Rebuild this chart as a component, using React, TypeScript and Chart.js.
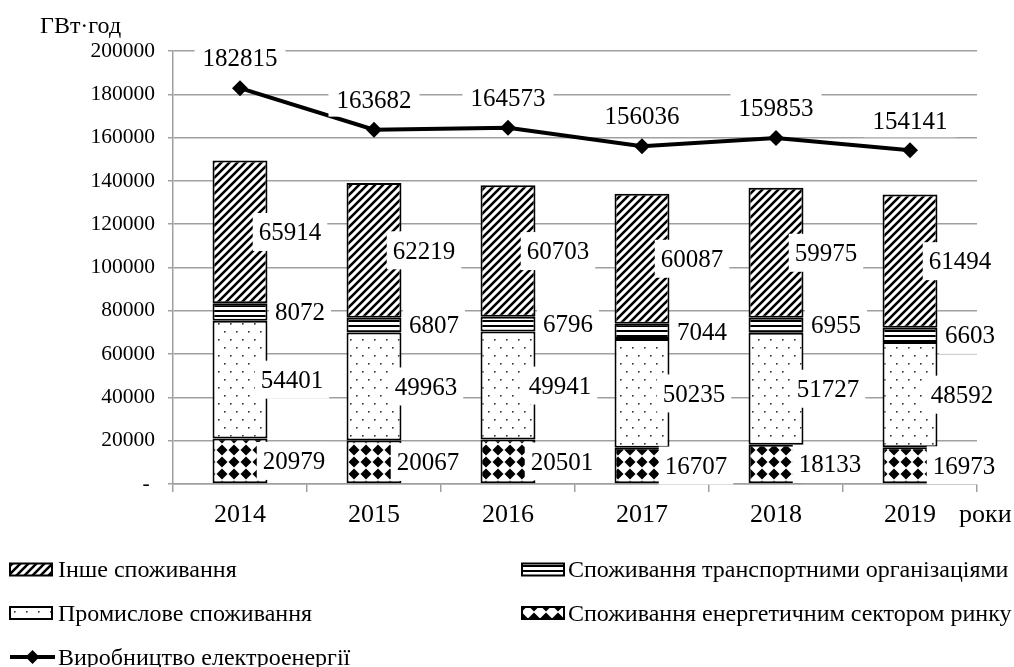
import React, { useEffect, useRef } from 'react';
import { Chart, registerables } from 'chart.js';

Chart.register(...registerables);

const years = ['2014', '2015', '2016', '2017', '2018', '2019'];
const energySector = [20979, 20067, 20501, 16707, 18133, 16973];
const industrial = [54401, 49963, 49941, 50235, 51727, 48592];
const transport = [8072, 6807, 6796, 7044, 6955, 6603];
const otherUse = [65914, 62219, 60703, 60087, 59975, 61494];
const production = [182815, 163682, 164573, 156036, 159853, 154141];

const unitLabel = 'ГВт·год';
const xAxisLabel = 'роки';
const seriesNames = {
  other: 'Інше споживання',
  transport: 'Споживання транспортними організаціями',
  industrial: 'Промислове споживання',
  energy: 'Споживання енергетичним сектором ринку',
  production: 'Виробництво електроенергії',
};

const SERIF = '"Liberation Serif", "Times New Roman", serif';
const GRID = '#a0a0a0';

function makePattern(kind: string): CanvasPattern | string {
  const c = document.createElement('canvas');
  const g = c.getContext('2d');
  if (!g) return '#fff';
  if (kind === 'hatch') {
    c.width = 8; c.height = 8;
    g.fillStyle = '#fff'; g.fillRect(0, 0, 8, 8);
    g.strokeStyle = '#000'; g.lineWidth = 2.6; g.lineCap = 'square';
    g.beginPath();
    g.moveTo(-2, 10); g.lineTo(10, -2);
    g.moveTo(-2, 2); g.lineTo(2, -2);
    g.moveTo(6, 10); g.lineTo(10, 6);
    g.stroke();
  } else if (kind === 'hstripes') {
    c.width = 6; c.height = 5;
    g.fillStyle = '#fff'; g.fillRect(0, 0, 6, 5);
    g.fillStyle = '#000'; g.fillRect(0, 0, 6, 2);
  } else if (kind === 'dots') {
    c.width = 12; c.height = 16;
    g.fillStyle = '#fff'; g.fillRect(0, 0, 12, 16);
    g.fillStyle = '#333';
    g.fillRect(2, 3, 1.6, 1.6);
    g.fillRect(8, 11, 1.6, 1.6);
  } else if (kind === 'diamonds') {
    c.width = 12; c.height = 12;
    g.fillStyle = '#fff'; g.fillRect(0, 0, 12, 12);
    g.fillStyle = '#000';
    g.beginPath();
    g.moveTo(6, 0.5); g.lineTo(11.5, 6); g.lineTo(6, 11.5); g.lineTo(0.5, 6);
    g.closePath(); g.fill();
  }
  const p = g.createPattern(c, 'repeat');
  return p || '#fff';
}

function drawBoxLabel(ctx: CanvasRenderingContext2D, text: string, cx: number, cy: number, size: number, padX: number, h: number) {
  ctx.font = `${size}px ${SERIF}`;
  const w = ctx.measureText(text).width;
  ctx.fillStyle = '#fff';
  ctx.fillRect(cx - w / 2 - padX, cy - h / 2, w + 2 * padX, h);
  ctx.fillStyle = '#000';
  ctx.textAlign = 'center';
  ctx.textBaseline = 'alphabetic';
  ctx.fillText(text, cx, cy + size * 0.331);
}

const labelPlugin = {
  id: 'boxLabels',
  afterDatasetsDraw(chart: any) {
    const ctx: CanvasRenderingContext2D = chart.ctx;
    ctx.save();
    chart.data.datasets.forEach((ds: any, i: number) => {
      const meta = chart.getDatasetMeta(i);
      if (meta.hidden) return;
      meta.data.forEach((el: any, j: number) => {
        const v = ds.data[j];
        const text = String(v);
        if (ds.type === 'line') {
          drawBoxLabel(ctx, text, el.x, el.y - 30, 25, 8, 34);
        } else {
          const cy = (el.y + el.base) / 2;
          drawBoxLabel(ctx, text, el.x + (ds.labelDx || 55), cy, 25, 6, 38);
        }
      });
    });
    ctx.restore();
  },
};

const decorPlugin = {
  id: 'decor',
  afterDraw(chart: any) {
    const ctx: CanvasRenderingContext2D = chart.ctx;
    const ds = chart.data.datasets;
    ctx.save();
    ctx.fillStyle = '#000';
    ctx.textAlign = 'left';
    ctx.textBaseline = 'alphabetic';
    ctx.font = `24px ${SERIF}`;
    ctx.fillText(unitLabel, 40, 33);
    ctx.font = `26px ${SERIF}`;
    ctx.fillText(xAxisLabel, 959, 522);

    const items = [
      { idx: 3, col: 0, row: 0 },
      { idx: 2, col: 1, row: 0 },
      { idx: 1, col: 0, row: 1 },
      { idx: 0, col: 1, row: 1 },
      { idx: 4, col: 0, row: 2 },
    ];
    const symX = [10, 522];
    const textX = [58, 568];
    const rowY = [569.5, 613, 657];
    items.forEach((it) => {
      const d = ds[it.idx];
      const sx = symX[it.col];
      const y = rowY[it.row];
      if (d.type === 'line') {
        ctx.strokeStyle = '#000';
        ctx.lineWidth = 4;
        ctx.beginPath();
        ctx.moveTo(sx, y); ctx.lineTo(sx + 45, y);
        ctx.stroke();
        ctx.fillStyle = '#000';
        const r = 7;
        const cx = sx + 22.5;
        ctx.beginPath();
        ctx.moveTo(cx, y - r); ctx.lineTo(cx + r, y); ctx.lineTo(cx, y + r); ctx.lineTo(cx - r, y);
        ctx.closePath(); ctx.fill();
      } else {
        ctx.fillStyle = d.backgroundColor;
        ctx.fillRect(sx, y - 6, 42, 12);
        ctx.strokeStyle = '#000';
        ctx.lineWidth = 2;
        ctx.strokeRect(sx, y - 6, 42, 12);
      }
      ctx.fillStyle = '#000';
      ctx.font = `24px ${SERIF}`;
      ctx.textAlign = 'left';
      ctx.textBaseline = 'alphabetic';
      ctx.fillText(d.label, textX[it.col], y + 24 * 0.331);
    });
    ctx.restore();
  },
};

export default function App() {
  const ref = useRef<HTMLCanvasElement | null>(null);

  useEffect(() => {
    const canvas = ref.current;
    if (!canvas) return;
    const hatch = makePattern('hatch');
    const stripes = makePattern('hstripes');
    const dots = makePattern('dots');
    const diamonds = makePattern('diamonds');

    const barCommon = {
      type: 'bar',
      borderColor: '#000',
      borderWidth: 2,
      borderSkipped: false,
      stack: 's',
      order: 2,
      barPercentage: 0.41,
      categoryPercentage: 1,
    };

    const chart = new Chart(canvas, {
      type: 'bar',
      data: {
        labels: years,
        datasets: [
          { ...barCommon, label: seriesNames.energy, data: energySector, backgroundColor: diamonds, labelDx: 54 } as any,
          { ...barCommon, label: seriesNames.industrial, data: industrial, backgroundColor: dots, labelDx: 52 } as any,
          { ...barCommon, label: seriesNames.transport, data: transport, backgroundColor: stripes, labelDx: 60 } as any,
          { ...barCommon, label: seriesNames.other, data: otherUse, backgroundColor: hatch, labelDx: 50 } as any,
          {
            type: 'line',
            label: seriesNames.production,
            data: production,
            borderColor: '#000',
            backgroundColor: '#000',
            borderWidth: 4,
            pointStyle: 'rectRot',
            pointRadius: 8,
            pointBackgroundColor: '#000',
            pointBorderColor: '#000',
            pointBorderWidth: 0,
            tension: 0,
            stack: 'line',
            order: 0,
          } as any,
        ],
      },
      options: {
        responsive: false,
        animation: false,
        devicePixelRatio: 1,
        layout: { padding: { top: 51, right: 37, left: 0, bottom: 0 } },
        plugins: {
          legend: { display: false },
          title: { display: false },
          tooltip: { enabled: false },
        },
        scales: {
          x: {
            stacked: true,
            offset: true,
            grid: {
              display: true,
              drawOnChartArea: false,
              drawTicks: true,
              tickLength: 8,
              offset: true,
              color: GRID,
              lineWidth: 1.5,
            },
            border: { display: true, color: GRID, width: 1.5 },
            ticks: { font: { family: SERIF, size: 26 }, color: '#000', padding: 8 },
            afterFit: (s: any) => { s.height = 183; },
          },
          y: {
            stacked: true,
            min: 0,
            max: 200000,
            ticks: {
              stepSize: 20000,
              font: { family: SERIF, size: 21.5 },
              color: '#000',
              padding: 13,
              callback: (v: any) => (Number(v) === 0 ? '- ' : String(v)),
            },
            grid: { color: GRID, lineWidth: 1.5, tickLength: 5 },
            border: { display: true, color: GRID, width: 1.5 },
            afterFit: (s: any) => { s.width = 173; },
          },
        },
      } as any,
      plugins: [labelPlugin, decorPlugin],
    });
    return () => chart.destroy();
  }, []);

  return (
    <div style={{ position: 'absolute', left: 0, top: 0, width: 1014, height: 667, background: '#fff' }}>
      <canvas ref={ref} width={1014} height={667} />
    </div>
  );
}
